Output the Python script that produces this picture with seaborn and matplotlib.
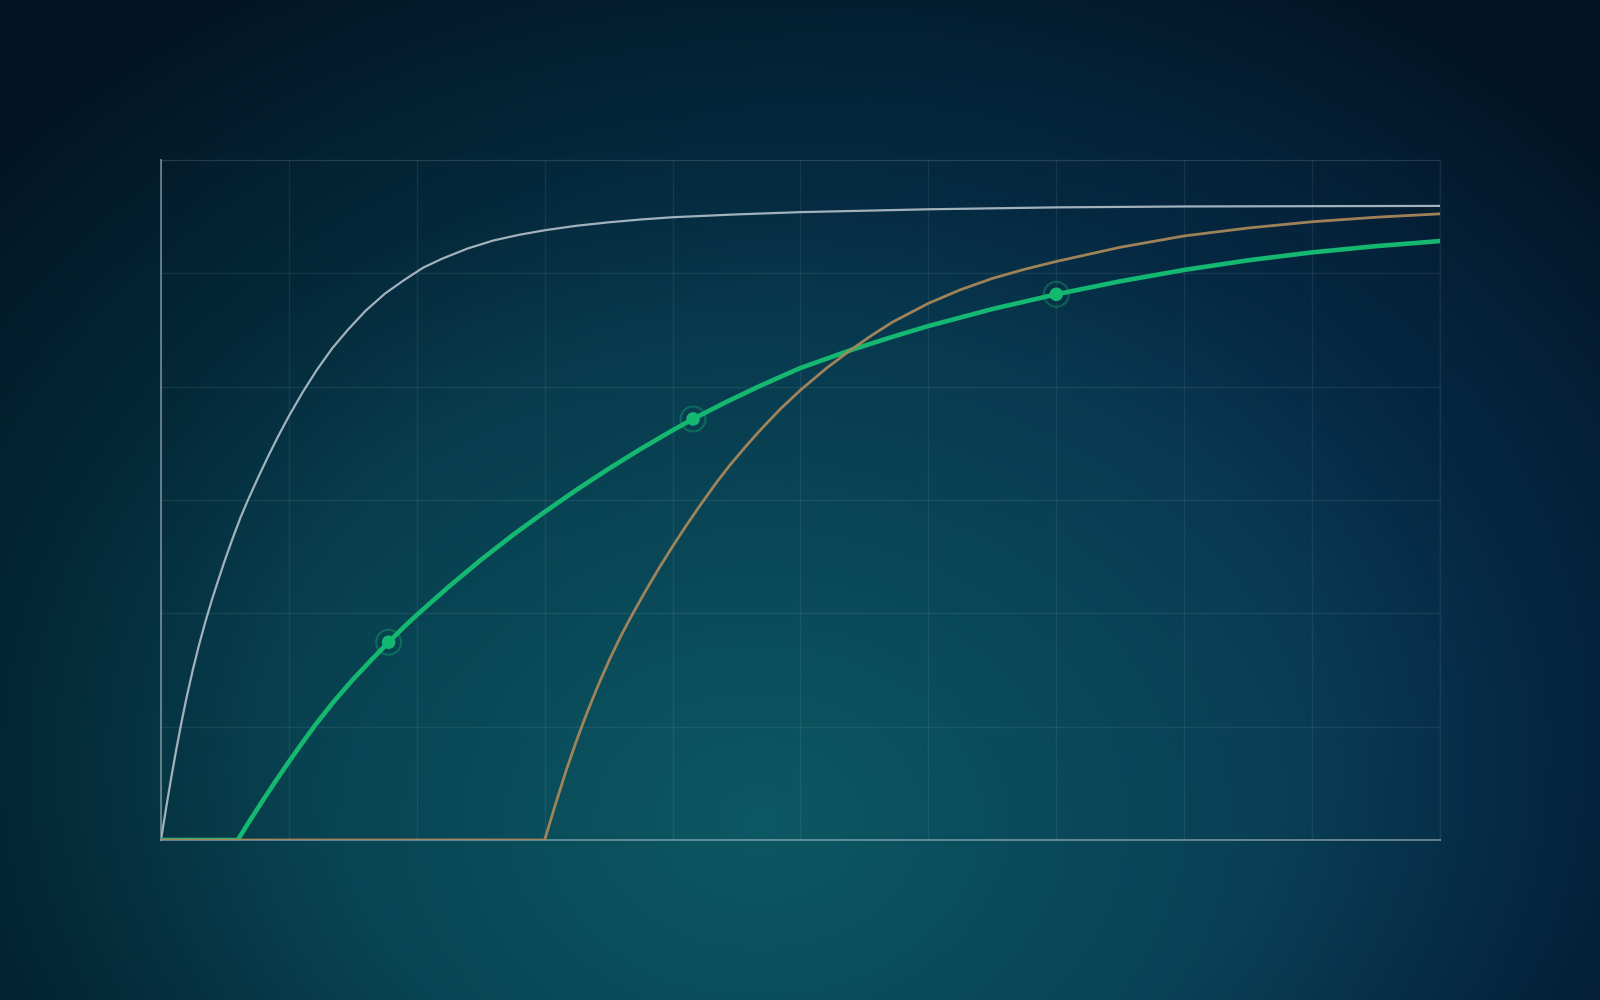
import numpy as np
import pandas as pd
import matplotlib
matplotlib.use("Agg")
import matplotlib.pyplot as plt
import seaborn as sns

# ---------------- data ----------------
gray_x = [0, 0.04, 0.08, 0.12, 0.16, 0.20, 0.25, 0.30, 0.35, 0.40, 0.45, 0.5, 0.56, 0.62,
          0.68, 0.76, 0.84, 0.92, 1.0, 1.11, 1.22, 1.34, 1.46, 1.6, 1.75, 1.9, 2.05, 2.2,
          2.4, 2.6, 2.8, 3.0, 3.25, 3.5, 3.75, 4.0, 4.5, 5.0, 6.0, 7.0, 8.0, 10.0]
gray_y = [0, 0.28, 0.548, 0.80, 1.036, 1.256, 1.506, 1.731, 1.936, 2.126, 2.30, 2.47, 2.66, 2.84,
          3.0, 3.20, 3.39, 3.57, 3.74, 3.955, 4.15, 4.34, 4.50, 4.67, 4.82, 4.94, 5.05, 5.13,
          5.22, 5.29, 5.34, 5.38, 5.42, 5.45, 5.475, 5.495, 5.52, 5.54, 5.565, 5.582, 5.59, 5.595]

green_x = [0, 0.6, 0.7, 0.8, 0.9, 1.0, 1.1, 1.21, 1.35, 1.5, 1.65, 1.78, 1.9, 2.0, 2.25,
           2.5, 2.75, 3.0, 3.25, 3.5, 3.75, 4.0, 4.16, 4.42, 4.68, 5.0, 5.4, 5.72, 6.0,
           6.5, 7.0, 7.5, 8.0, 8.5, 9.0, 9.5, 10.0]
green_y = [0, 0, 0.18, 0.355, 0.525, 0.69, 0.85, 1.02, 1.22, 1.415, 1.595, 1.745, 1.88, 1.985, 2.235,
           2.47, 2.69, 2.895, 3.09, 3.275, 3.45, 3.615, 3.715, 3.865, 4.005, 4.165, 4.325, 4.44, 4.535,
           4.685, 4.815, 4.93, 5.03, 5.115, 5.185, 5.24, 5.285]

orange_x = [0, 3.0, 3.08, 3.17, 3.25, 3.33, 3.42, 3.51, 3.6, 3.69, 3.8, 3.9, 4.0, 4.11,
            4.22, 4.34, 4.45, 4.57, 4.68, 4.84, 5.0, 5.2, 5.4, 5.56, 5.72, 6.0, 6.25, 6.5,
            6.75, 7.0, 7.5, 8.0, 8.5, 9.0, 9.5, 10.0]
orange_y = [0, 0, 0.30, 0.62, 0.88, 1.12, 1.37, 1.60, 1.81, 2.0, 2.22, 2.41, 2.59, 2.78,
            2.96, 3.15, 3.31, 3.47, 3.61, 3.80, 3.97, 4.16, 4.33, 4.455, 4.57, 4.735, 4.855, 4.955,
            5.035, 5.105, 5.23, 5.33, 5.40, 5.455, 5.495, 5.525]

marker_x = [1.78, 4.16, 7.0]
marker_y = [1.745, 3.715, 4.815]

x_ticks = [0, 1, 2, 3, 4, 5, 6, 7, 8, 9, 10]
y_ticks = [0, 1, 2, 3, 4, 5, 6]

# ---------------- colours ----------------
C_GRAY = "#a2b2bc"
C_GREEN = "#14b870"
C_ORANGE = "#a8875a"

sns.set_theme(style="white")

W, H = 1600, 1000
fig = plt.figure(figsize=(16, 10), dpi=100)

# ---------------- background gradient ----------------
yy, xx = np.mgrid[0:H, 0:W].astype(float)
left_col = np.array([5, 50, 64]) / 255.0
right_col = np.array([8, 47, 80]) / 255.0
teal = np.array([12, 88, 99]) / 255.0
dark = np.array([2, 20, 36]) / 255.0

t = np.clip(xx / W, 0, 1)[..., None]
base = left_col * (1 - t) + right_col * t
d1 = np.sqrt(((xx - 760) / 820) ** 2 + ((yy - 820) / 640) ** 2)
w1 = (np.clip(1 - d1, 0, 1) ** 1.0)[..., None]
img = base * (1 - w1) + teal * w1
d2 = np.sqrt(((xx - 800) / 980) ** 2 + ((yy - 720) / 780) ** 2)
w2 = (np.clip((d2 - 0.5) / 0.6, 0, 1) ** 1.3)[..., None]
img = img * (1 - w2) + dark * w2

bg = fig.add_axes([0, 0, 1, 1], zorder=-10)
bg.imshow(img, aspect="auto", extent=[0, 1, 0, 1], origin="upper")
bg.axis("off")

# ---------------- main axes ----------------
ax = fig.add_axes([0.1006, 0.16, 0.7994, 0.68])
ax.set_facecolor("none")
ax.patch.set_alpha(0)

sns.lineplot(x=gray_x, y=gray_y, ax=ax, color=C_GRAY, linewidth=1.6,
             estimator=None, sort=False, zorder=3)
sns.lineplot(x=green_x, y=green_y, ax=ax, color=C_GREEN, linewidth=3.3,
             estimator=None, sort=False, zorder=4)
sns.lineplot(x=orange_x, y=orange_y, ax=ax, color=C_ORANGE, linewidth=2.0,
             estimator=None, sort=False, zorder=5, alpha=0.95)

# markers: ring + dot
sns.scatterplot(x=marker_x, y=marker_y, ax=ax, s=320, facecolor="none",
                edgecolor=C_GREEN, linewidth=1.6, alpha=0.35, zorder=6)
sns.scatterplot(x=marker_x, y=marker_y, ax=ax, s=95, color=C_GREEN,
                edgecolor="none", zorder=7)

ax.set_xlim(0, 10)
ax.set_ylim(0, 6)
ax.set_xticks(x_ticks)
ax.set_yticks(y_ticks)
ax.grid(True, color="white", alpha=0.07, linewidth=1.0)
ax.tick_params(length=0, labelbottom=False, labelleft=False)
ax.set_xlabel("")
ax.set_ylabel("")

for side in ["top", "right"]:
    ax.spines[side].set_color((1, 1, 1, 0.07))
    ax.spines[side].set_linewidth(1.0)
for side in ["left", "bottom"]:
    ax.spines[side].set_color((0.62, 0.70, 0.74, 0.6))
    ax.spines[side].set_linewidth(1.4)
    ax.spines[side].set_zorder(2)

fig.savefig("out.png", dpi=100)
